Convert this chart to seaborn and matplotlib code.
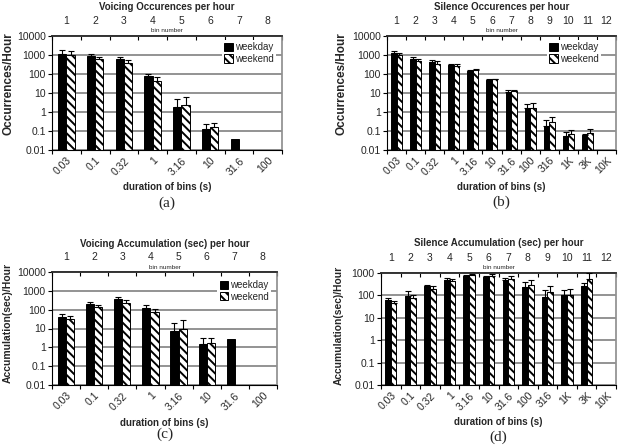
import numpy as np
import pandas as pd
import matplotlib
matplotlib.use("Agg")
import matplotlib.pyplot as plt
import seaborn as sns
from matplotlib.container import BarContainer
from matplotlib.ticker import FuncFormatter, FixedLocator, NullLocator

sns.set_theme(style="white")
plt.rcParams['font.family'] = ['Liberation Sans', 'DejaVu Sans']
plt.rcParams['hatch.linewidth'] = 1.4

nan = np.nan

# bins
short_bins = ["0.03", "0.1", "0.32", "1", "3.16", "10", "31.6", "100"]
long_bins = ["0.03", "0.1", "0.32", "1", "3.16", "10", "31.6", "100", "316", "1K", "3K", "10K"]

# (a) voicing occurrences per hour
voc_occ_weekday = [1100, 900, 640, 80, 1.85, 0.125, 0.04, nan]
voc_occ_weekend = [1000, 590, 400, 45, 2.3, 0.155, nan, nan]
voc_occ_weekday_hi = [1800, 1120, 810, 100, 4.6, 0.24, nan, nan]
voc_occ_weekend_hi = [1550, 810, 550, 68, 6.2, 0.28, nan, nan]

# (b) silence occurrences per hour
sil_occ_weekday = [1260, 630, 410, 295, 140, 47, 11, 1.6, 0.18, 0.057, 0.06, nan]
sil_occ_weekend = [1020, 460, 330, 250, 155, 54, 12.5, 1.7, 0.29, 0.07, 0.08, nan]
sil_occ_weekday_hi = [1670, 770, 560, 345, 160, 52, 13.8, 2.8, 0.36, 0.09, 0.068, nan]
sil_occ_weekend_hi = [1310, 610, 480, 320, 175, 57, 15, 3.0, 0.54, 0.115, 0.13, nan]

# (c) voicing accumulation (sec) per hour
voc_acc_weekday = [40, 200, 380, 118, 7.8, 1.5, 2.8, nan]
voc_acc_weekend = [32, 134, 240, 72, 9.6, 1.7, nan, nan]
voc_acc_weekday_hi = [58, 250, 465, 170, 20, 3.2, nan, nan]
voc_acc_weekend_hi = [49, 170, 320, 113, 27, 3.0, nan, nan]

# (d) silence accumulation (sec) per hour
sil_acc_weekday = [63, 93, 255, 500, 730, 630, 470, 230, 87, 100, 270, nan]
sil_acc_weekend = [47, 78, 200, 430, 830, 730, 560, 280, 135, 100, 560, nan]
sil_acc_weekday_hi = [76, 150, 305, 570, 810, 730, 600, 400, 166, 166, 355, nan]
sil_acc_weekend_hi = [57, 100, 255, 560, 900, 880, 740, 470, 250, 190, 1000, nan]


def panel(ax, bins, weekday, weekend, wd_hi, we_hi, title, ylabel, caption,
          ytop=10000, legend_at=None, lay=None):
    n = len(bins)
    df = pd.DataFrame({
        "bin": bins * 2,
        "day": ["weekday"] * n + ["weekend"] * n,
        "value": list(weekday) + list(weekend),
    }).dropna()
    sns.barplot(data=df, x="bin", y="value", hue="day", order=bins,
                hue_order=["weekday", "weekend"],
                palette={"weekday": "black", "weekend": "white"},
                edgecolor="black", linewidth=0.7, width=0.58,
                errorbar=None, legend=False, ax=ax)
    ax.set_yscale("log")
    ax.set_ylim(0.01, ytop)
    ax.set_xlim(-0.5, n - 0.5)

    # hatch weekend bars, add upper error bars
    bar_conts = [c for c in ax.containers if isinstance(c, BarContainer)]
    his = [wd_hi, we_hi]
    for k, cont in enumerate(bar_conts):
        for bar in cont:
            if k == 1:
                bar.set_hatch("\\\\\\\\")
            xc = bar.get_x() + bar.get_width() / 2
            i = int(round(xc))
            hi = his[k][i]
            h = bar.get_height()
            if np.isfinite(hi) and np.isfinite(h):
                ax.errorbar(xc, h, yerr=[[0], [hi - h]], fmt="none",
                            ecolor="black", elinewidth=0.8, capsize=2.2,
                            capthick=0.8, zorder=3)

    # y axis
    ax.yaxis.set_major_locator(FixedLocator([10.0 ** p for p in range(-2, 5) if 10.0 ** p <= ytop]))
    ax.yaxis.set_minor_locator(NullLocator())
    ax.yaxis.set_major_formatter(FuncFormatter(lambda v, _: f"{v:g}"))
    ax.yaxis.grid(True, color="#808080", linewidth=1.2)
    ax.set_axisbelow(True)
    ax.tick_params(axis="y", which="major", direction="out", length=3,
                   width=0.8, color="black", labelsize=7.5, pad=1.5, left=True)

    # x axis: labels at centres, ticks at bin edges
    ax.set_xticks(range(n))
    ax.set_xticks(np.arange(n + 1) - 0.5, minor=True)
    ax.tick_params(axis="x", which="major", length=0, labelsize=7.5,
                   labelrotation=45, pad=4)
    ax.tick_params(axis="x", which="minor", direction="out", length=3,
                   width=0.8, color="black", bottom=True)
    for lbl in ax.get_xticklabels():
        lbl.set_ha("right")
        lbl.set_rotation_mode("anchor")
    ax.set_xlabel("")
    ax.set_ylabel("")

    top = ax.secondary_xaxis("top")
    top.set_xticks(range(n))
    top.set_xticklabels([str(i + 1) for i in range(n)])
    top.set_xticks(np.arange(n + 1) - 0.5, minor=True)
    top.tick_params(axis="x", which="major", length=0, labelsize=7.5, pad=7.5)
    top.tick_params(axis="x", which="minor", direction="in", length=3,
                    width=0.8, color="black")
    top.spines["top"].set_color("#303030")

    for s in ["left", "bottom"]:
        ax.spines[s].set_color("black")
        ax.spines[s].set_linewidth(0.8)
    ax.spines["top"].set_color("#303030")
    ax.spines["right"].set_color("#909090")

    ax.text(0.5, lay["title"], title, transform=ax.transAxes, ha="center",
            va="center", fontsize=7, fontweight="bold")
    ax.text(0.5, lay["bin"], "bin number", transform=ax.transAxes,
            ha="center", va="center", fontsize=4.6)
    ax.text(0.5, lay["xlabel"], "duration of bins (s)", transform=ax.transAxes,
            ha="center", va="center", fontsize=7, fontweight="bold")
    ax.text(lay["ylx"], lay["yly"], ylabel, transform=ax.transAxes, rotation=90,
            ha="center", va="center", fontsize=lay["yls"], fontweight="bold")
    ax.text(0.5, lay["cap"], caption, transform=ax.transAxes, ha="center",
            va="center", fontsize=11, family=["Liberation Serif", "DejaVu Serif"])

    if legend_at is not None:
        ax.legend(bar_conts, ["weekday", "weekend"], loc="upper right",
                  bbox_to_anchor=legend_at, fontsize=7, frameon=True,
                  facecolor="white", edgecolor="none", framealpha=1,
                  fancybox=False, handlelength=0.9, handleheight=0.9,
                  handletextpad=0.2, labelspacing=0.15, borderpad=0.25,
                  borderaxespad=0)


W, H = 620, 448
fig = plt.figure(figsize=(W / 100, H / 100), dpi=100)


def box(l, r, t, b):
    return [l / W, 1 - b / H, (r - l) / W, (b - t) / H]


ax_a = fig.add_axes(box(52, 282, 36, 150))
ax_b = fig.add_axes(box(387, 616, 36, 150))
ax_c = fig.add_axes(box(52, 277, 272, 385))
ax_d = fig.add_axes(box(381, 616, 273, 385))

panel(ax_a, short_bins, voc_occ_weekday, voc_occ_weekend, voc_occ_weekday_hi,
      voc_occ_weekend_hi, "Voicing Occurences per hour", "Occurrences/Hour", "(a)",
      legend_at=(0.975, 0.965),
      lay=dict(title=1.254, bin=1.048, xlabel=-0.325, cap=-0.465, ylx=-0.187,
               yly=0.58, yls=8.5))
panel(ax_b, long_bins, sil_occ_weekday, sil_occ_weekend, sil_occ_weekday_hi,
      sil_occ_weekend_hi, "Silence Occurences per hour", "Occurrences/Hour", "(b)",
      legend_at=(0.935, 0.965),
      lay=dict(title=1.254, bin=1.048, xlabel=-0.325, cap=-0.456, ylx=-0.197,
               yly=0.58, yls=8.5))
panel(ax_c, short_bins, voc_acc_weekday, voc_acc_weekend, voc_acc_weekday_hi,
      voc_acc_weekend_hi, "Voicing Accumulation (sec) per hour", "Accumulation(sec)/Hour", "(c)",
      legend_at=(0.975, 0.95),
      lay=dict(title=1.248, bin=1.036, xlabel=-0.336, cap=-0.434, ylx=-0.196,
               yly=0.553, yls=7.5))
panel(ax_d, long_bins, sil_acc_weekday, sil_acc_weekend, sil_acc_weekday_hi,
      sil_acc_weekend_hi, "Silence Accumulation (sec) per hour", "Accumulation(sec)/Hour", "(d)",
      ytop=1000, legend_at=None,
      lay=dict(title=1.268, bin=1.045, xlabel=-0.33, cap=-0.464, ylx=-0.179,
               yly=0.536, yls=7.4))

fig.savefig("out.png", dpi=100, facecolor="white")
